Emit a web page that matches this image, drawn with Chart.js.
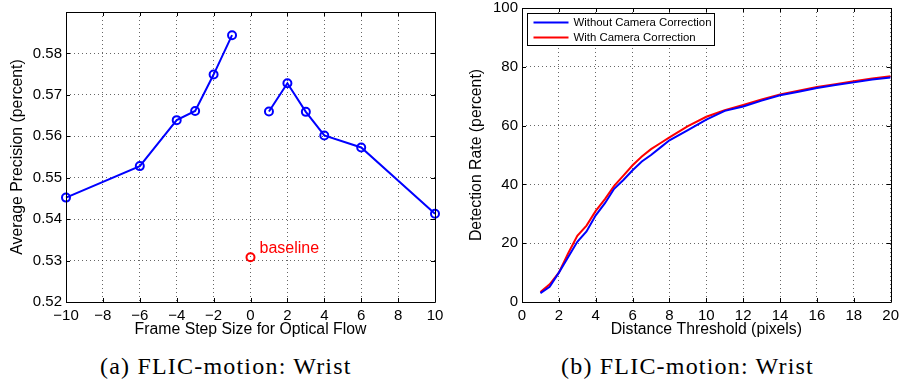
<!DOCTYPE html>
<html>
<head>
<meta charset="utf-8">
<script src="https://cdn.jsdelivr.net/npm/chart.js@4.4.0/dist/chart.umd.min.js"></script>
<style>
  body { margin: 0; background: #fff; width: 904px; height: 382px; position: relative; overflow: hidden; }
  canvas { position: absolute; top: -10px; }
  #leftChart { left: 0; }
  #rightChart { left: 455px; }
  .caption { position: absolute; top: 354px; line-height: 24px; font-family: "Liberation Serif", "DejaVu Serif", serif; font-size: 24px; letter-spacing: 1.2px; color: #000; white-space: nowrap; }
</style>
</head>
<body>
<canvas id="leftChart" width="450" height="355"></canvas>
<canvas id="rightChart" width="449" height="355"></canvas>
<div class="caption" style="left:100px">(a) FLIC-motion: Wrist</div>
<div class="caption" style="left:561px">(b) FLIC-motion: Wrist</div>
<script>
// (a) average precision vs frame step
const stepsNeg = [-10, -6, -4, -3, -2, -1];
const apNeg = [0.5452, 0.5528, 0.5639, 0.5661, 0.5749, 0.5844];
const stepsPos = [1, 2, 3, 4, 6, 10];
const apPos = [0.5660, 0.5728, 0.5659, 0.5602, 0.5573, 0.5413];
const baselineStep = [0];
const baselineAp = [0.5308];

// (b) detection rate vs distance threshold
const thresholds = [1, 1.5, 2, 2.5, 3, 3.5, 4, 4.5, 5, 5.5, 6, 6.5, 7, 7.5, 8, 9, 10, 11, 12, 13, 14, 15, 16, 17, 18, 19, 20];
const rateWithout = [3.0, 5.2, 10.0, 15.2, 20.5, 24.0, 29.5, 33.6, 38.5, 41.5, 44.8, 47.8, 50.0, 52.5, 55.0, 58.5, 62.0, 65.0, 66.5, 68.5, 70.3, 71.5, 72.8, 73.8, 74.7, 75.7, 76.4];
const rateWith = [3.4, 6.0, 10.0, 16.5, 22.5, 26.0, 31.0, 35.0, 39.5, 43.0, 46.5, 49.5, 52.0, 54.0, 56.0, 59.8, 63.0, 65.2, 67.0, 68.9, 70.6, 71.9, 73.1, 74.1, 75.1, 76.0, 76.8];

const seriesNames = ['Without Camera Correction', 'With Camera Correction'];

const FONT = '"Liberation Sans", Arial, sans-serif';
const toPts = (xs, ys) => xs.map((x, i) => ({ x: x, y: ys[i] }));
const minus = v => String(v).replace('-', '\u2212');

// box around the axes with inward tick marks (matlab style)
const framePlugin = {
  id: 'frame',
  afterDatasetsDraw(chart) {
    const { ctx, chartArea: a, scales: { x, y } } = chart;
    ctx.save();
    ctx.strokeStyle = '#000';
    ctx.lineWidth = 1;
    ctx.beginPath();
    ctx.rect(Math.round(a.left) + 0.5, Math.round(a.top) + 0.5, Math.round(a.right - a.left), Math.round(a.bottom - a.top));
    x.ticks.forEach(t => {
      const px = Math.round(x.getPixelForValue(t.value)) + 0.5;
      ctx.moveTo(px, a.bottom); ctx.lineTo(px, a.bottom - 4);
      ctx.moveTo(px, a.top); ctx.lineTo(px, a.top + 4);
    });
    y.ticks.forEach(t => {
      const py = Math.round(y.getPixelForValue(t.value)) + 0.5;
      ctx.moveTo(a.left, py); ctx.lineTo(a.left + 4, py);
      ctx.moveTo(a.right, py); ctx.lineTo(a.right - 4, py);
    });
    ctx.stroke();
    ctx.restore();
  }
};

const baselineLabel = {
  id: 'baselineLabel',
  afterDatasetsDraw(chart) {
    const { ctx, scales: { x, y } } = chart;
    ctx.save();
    ctx.fillStyle = '#ff0000';
    ctx.font = '16px ' + FONT;
    ctx.textBaseline = 'middle';
    ctx.fillText('baseline', x.getPixelForValue(baselineStep[0]) + 9, y.getPixelForValue(baselineAp[0]) - 9);
    ctx.restore();
  }
};

const insideLegend = {
  id: 'insideLegend',
  afterDraw(chart) {
    const { ctx, chartArea: a } = chart;
    ctx.save();
    ctx.font = '11.4px ' + FONT;
    const textW = Math.max(...chart.data.datasets.map(d => ctx.measureText(d.label).width));
    const bx = Math.round(a.left) + 5.5, by = Math.round(a.top) + 5.5;
    const bw = 46 + textW + 3, bh = 32;
    ctx.fillStyle = '#fff';
    ctx.fillRect(bx, by, bw, bh);
    ctx.strokeStyle = '#000';
    ctx.lineWidth = 1;
    ctx.strokeRect(bx, by, bw, bh);
    chart.data.datasets.forEach((d, i) => {
      const ly = by + 9 + i * 15;
      ctx.strokeStyle = d.borderColor;
      ctx.lineWidth = 2;
      ctx.beginPath();
      ctx.moveTo(bx + 6, ly); ctx.lineTo(bx + 41, ly);
      ctx.stroke();
      ctx.fillStyle = '#000';
      ctx.textBaseline = 'middle';
      ctx.fillText(d.label, bx + 46, ly);
    });
    ctx.restore();
  }
};

function axisOpts(min, max, step, title, fmt, size, titlePad) {
  return {
    type: 'linear',
    min: min, max: max,
    ticks: { stepSize: step, color: '#000', font: { family: FONT, size: 15 }, padding: 4, callback: fmt },
    grid: { color: 'rgba(0,0,0,0.6)', lineWidth: 1, drawTicks: false },
    border: { display: false, dash: [1, 3] },
    title: { display: true, text: title, color: '#000', font: { family: FONT, size: 15.8 }, padding: titlePad },
    afterFit: s => { if (s.isHorizontal()) s.height = size; else s.width = size; }
  };
}

const leftX = axisOpts(-10, 10, 2, 'Frame Step Size for Optical Flow', v => minus(v), 43, { top: 0, bottom: 5.5 });
leftX.ticks.padding = 5;
const leftY = axisOpts(0.52, 0.59, 0.01, 'Average Precision (percent)',
  v => Math.abs(v - 0.59) < 1e-6 ? '' : v.toFixed(2), 66, { top: 8.5, bottom: 0 });

new Chart(document.getElementById('leftChart'), {
  type: 'line',
  data: {
    datasets: [
      { data: toPts(stepsNeg, apNeg), borderColor: '#0000ff', borderWidth: 2, pointRadius: 4, pointBorderWidth: 2, pointBackgroundColor: 'rgba(0,0,0,0)', pointBorderColor: '#0000ff', clip: false },
      { data: toPts(stepsPos, apPos), borderColor: '#0000ff', borderWidth: 2, pointRadius: 4, pointBorderWidth: 2, pointBackgroundColor: 'rgba(0,0,0,0)', pointBorderColor: '#0000ff', clip: false },
      { data: toPts(baselineStep, baselineAp), borderColor: '#ff0000', showLine: false, pointRadius: 4, pointBorderWidth: 2, pointBackgroundColor: 'rgba(0,0,0,0)', pointBorderColor: '#ff0000', clip: false }
    ]
  },
  options: {
    responsive: false,
    animation: false,
    layout: { padding: { left: 0, right: 15, top: 22, bottom: 0 } },
    plugins: { legend: { display: false }, tooltip: { enabled: false } },
    scales: { x: leftX, y: leftY }
  },
  plugins: [framePlugin, baselineLabel]
});

const rightX = axisOpts(0, 20, 2, 'Distance Threshold (pixels)', v => v, 43, { top: 0, bottom: 5.5 });
rightX.ticks.padding = 5;
const rightY = axisOpts(0, 100, 20, 'Detection Rate (percent)', v => v, 67, { top: 12.5, bottom: 0 });

new Chart(document.getElementById('rightChart'), {
  type: 'line',
  data: {
    datasets: [
      { label: seriesNames[0], data: toPts(thresholds, rateWithout), borderColor: '#0000ff', borderWidth: 2, pointRadius: 0, tension: 0 },
      { label: seriesNames[1], data: toPts(thresholds, rateWith), borderColor: '#ff0000', borderWidth: 2, pointRadius: 0, tension: 0 }
    ]
  },
  options: {
    responsive: false,
    animation: false,
    layout: { padding: { left: 0, right: 10, top: 18, bottom: 0 } },
    plugins: { legend: { display: false }, tooltip: { enabled: false } },
    scales: { x: rightX, y: rightY }
  },
  plugins: [framePlugin, insideLegend]
});
</script>
</body>
</html>
